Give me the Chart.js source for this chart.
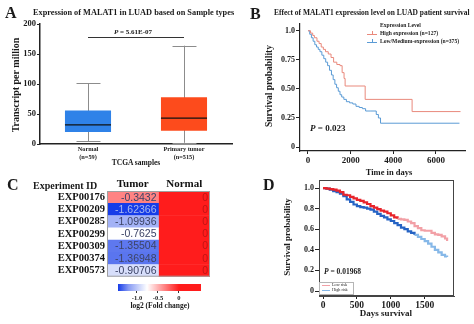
<!DOCTYPE html>
<html>
<head>
<meta charset="utf-8">
<script src="https://cdn.jsdelivr.net/npm/chart.js@4.4.1/dist/chart.umd.min.js"></script>
<style>
  body { margin:0; width:474px; height:324px; position:relative; overflow:hidden; background:#fff;
         font-family:"Liberation Serif", serif; font-weight:bold; color:#1a1a1a; }
  canvas { position:absolute; }
  .t { position:absolute; white-space:nowrap; line-height:1; }
  .c { transform:translate(-50%,-50%); }
  .l { transform:translateY(-50%); }
  .r { transform:translate(-50%,-50%) rotate(-90deg); }
  .big { font-size:16px; }
  .ln { position:absolute; height:1px; }
</style>
</head>
<body>
<canvas id="chartA" width="237" height="152" style="left:0;top:18px"></canvas>
<canvas id="chartB" width="234" height="160" style="left:240px;top:18px"></canvas>
<canvas id="chartC" width="237" height="115" style="left:0;top:170px"></canvas>
<canvas id="chartCbar" width="100" height="24" style="left:110px;top:280px"></canvas>
<canvas id="chartD" width="234" height="152" style="left:240px;top:172px"></canvas>

<!-- panel A texts -->
<div class="t l big" style="left:5px;top:13px">A</div>
<div class="t l" style="left:33px;top:13px;font-size:8.3px">Expression of MALAT1 in LUAD based on Sample types</div>
<div class="t c" style="left:133px;top:32px;font-size:7px"><i>P</i> = 5.61E-07</div>
<div class="t r" style="left:16px;top:85px;font-size:10px">Transcript per million</div>
<div class="t c" style="left:136px;top:163px;font-size:7.5px">TCGA samples</div>

<!-- panel B texts -->
<div class="t l big" style="left:250px;top:14px">B</div>
<div class="t l" style="left:274px;top:13px;font-size:7.45px">Effect of MALAT1 expression level on LUAD patient survival</div>
<div class="t l" style="left:380px;top:26px;font-size:5.6px">Expression Level</div>
<div class="ln" style="left:367px;top:34px;width:10px;background:#e9897c"></div>
<div class="ln" style="left:372px;top:31px;width:1px;height:3px;background:#e9897c"></div>
<div class="t l" style="left:380px;top:34px;font-size:5.6px">High expression (n=127)</div>
<div class="ln" style="left:367px;top:42px;width:10px;background:#5b9bd5"></div>
<div class="ln" style="left:372px;top:39px;width:1px;height:3px;background:#5b9bd5"></div>
<div class="t l" style="left:380px;top:42px;font-size:5.6px">Low/Medium-expression (n=375)</div>
<div class="t l" style="left:310px;top:128px;font-size:9px"><i>P</i> = 0.023</div>
<div class="t c" style="left:389px;top:172px;font-size:8.5px">Time in days</div>
<div class="t r" style="left:270px;top:86px;font-size:9.5px">Survival probability</div>

<!-- panel C texts -->
<div class="t l big" style="left:7px;top:185px">C</div>
<div class="t l" style="left:33px;top:186px;font-size:10px">Experiment ID</div>
<div class="t c" style="left:160px;top:306px;font-size:7.5px">log2 (Fold change)</div>

<!-- panel D texts -->
<div class="t l big" style="left:263px;top:185px">D</div>
<div class="t l" style="left:324px;top:272px;font-size:7.5px"><i>P</i> = 0.01968</div>
<div class="t c" style="left:386px;top:313px;font-size:9px">Days survival</div>
<div class="t r" style="left:287px;top:237px;font-size:9px">Survival probability</div>
<div style="position:absolute;left:319px;top:282px;width:33px;height:11px;border:0.5px solid #b5b5b5;background:#fff"></div>
<div class="ln" style="left:322px;top:285px;width:8px;background:#f2a0a6"></div>
<div class="t l" style="left:332px;top:285px;font-size:4.2px;font-weight:normal">Low risk</div>
<div class="ln" style="left:322px;top:290px;width:8px;background:#86b8e8"></div>
<div class="t l" style="left:332px;top:290px;font-size:4.2px;font-weight:normal">High risk</div>

<script>
// panel A: box plot values (transcript per million)
var boxLabels = [['Normal', '(n=59)'], ['Primary tumor', '(n=515)']];
var boxMin = [5, 2];
var boxQ1 = [20, 22];
var boxMedian = [32, 43];
var boxQ3 = [56, 78];
var boxMax = [101, 164];
var pBarValue = 178;
var aTicks = [0, 50, 100, 150, 200];

// panel B: Kaplan-Meier, days / survival
var highT = [0, 120, 220, 300, 420, 520, 620, 720, 820, 950, 1080, 1200, 1350, 1500, 1600, 1690, 1740, 2680, 4880, 7150];
var highS = [1.0, 0.98, 0.96, 0.94, 0.91, 0.89, 0.86, 0.84, 0.82, 0.80, 0.77, 0.73, 0.71, 0.70, 0.64, 0.59, 0.525, 0.41, 0.305, 0.305];
var lowT = [0, 80, 160, 240, 320, 400, 480, 560, 650, 740, 830, 920, 1010, 1100, 1180, 1260, 1340, 1420, 1500, 1580, 1680, 1800, 1950, 2100, 2250, 2400, 2550, 2700, 2950, 3200, 3300, 3400, 7100];
var lowS = [1.0, 0.97, 0.94, 0.91, 0.88, 0.86, 0.84, 0.82, 0.79, 0.76, 0.73, 0.70, 0.66, 0.62, 0.58, 0.54, 0.51, 0.48, 0.45, 0.43, 0.41, 0.39, 0.38, 0.37, 0.35, 0.34, 0.33, 0.31, 0.31, 0.28, 0.25, 0.205, 0.205];
var bXTicks = [0, 2000, 4000, 6000];
var bYTicks = [0, 0.25, 0.5, 0.75, 1];

// panel C: heatmap of log2 fold change
var expIds = ['EXP00176', 'EXP00209', 'EXP00285', 'EXP00299', 'EXP00309', 'EXP00374', 'EXP00573'];
var colHeads = ['Tumor', 'Normal'];
var tumorFC = [-0.3432, -1.62366, -1.09936, -0.7625, -1.35504, -1.36948, -0.90706];
var normalFC = [0, 0, 0, 0, 0, 0, 0];
var cbarTicks = [-1, -0.5, 0];
var cbarMin = -1.452, cbarMax = 0.524;

// panel D: risk groups, days / survival
var dT = [0, 50, 100, 150, 200, 250, 300, 350, 400, 450, 500, 550, 600, 650, 700, 750, 800, 850, 900, 950, 1000, 1050, 1100, 1150, 1200, 1250, 1300, 1350, 1400, 1450, 1500, 1550, 1600, 1650, 1700, 1750, 1800, 1830];
var lowRiskS = [1.0, 0.995, 0.99, 0.985, 0.975, 0.96, 0.935, 0.93, 0.915, 0.9, 0.885, 0.875, 0.86, 0.845, 0.825, 0.81, 0.795, 0.78, 0.77, 0.755, 0.735, 0.715, 0.70, 0.695, 0.69, 0.675, 0.66, 0.63, 0.61, 0.59, 0.585, 0.585, 0.565, 0.55, 0.545, 0.53, 0.51, 0.485];
var highRiskS = [1.0, 0.995, 0.985, 0.97, 0.96, 0.945, 0.92, 0.89, 0.865, 0.84, 0.825, 0.815, 0.81, 0.80, 0.79, 0.77, 0.75, 0.73, 0.715, 0.695, 0.68, 0.66, 0.64, 0.615, 0.60, 0.58, 0.565, 0.545, 0.525, 0.505, 0.485, 0.46, 0.43, 0.40, 0.375, 0.35, 0.335, 0.33];
var dXTicks = [0, 500, 1000, 1500];
var dYTicks = [0, 0.2, 0.4, 0.6, 0.8, 1];

Chart.defaults.font.family = '"Liberation Serif", serif';
Chart.defaults.font.weight = 'bold';
Chart.defaults.color = '#1a1a1a';
Chart.defaults.animation = false;
Chart.defaults.responsive = false;
Chart.defaults.devicePixelRatio = 1;
Chart.defaults.plugins.legend.display = false;
Chart.defaults.plugins.tooltip.enabled = false;

function fixTicks(list) {
  return function(scale) { scale.ticks = list.map(function(v) { return {value: v}; }); };
}
function toXY(xs, ys) {
  return xs.map(function(x, i) { return {x: x, y: ys[i]}; });
}

// ---------- A ----------
var boxPlugin = {
  id: 'boxExtras',
  beforeDatasetsDraw: function(chart) {
    var ctx = chart.ctx, y = chart.scales.y;
    ctx.save();
    ctx.strokeStyle = '#8c8c8c';
    ctx.lineWidth = 1;
    chart.getDatasetMeta(0).data.forEach(function(bar, i) {
      var x = Math.round(bar.x) + 0.5, half = bar.width * 0.26;
      ctx.beginPath();
      ctx.moveTo(x, y.getPixelForValue(boxMin[i]));
      ctx.lineTo(x, y.getPixelForValue(boxMax[i]));
      [boxMin[i], boxMax[i]].forEach(function(v) {
        var py = Math.round(y.getPixelForValue(v)) + 0.5;
        ctx.moveTo(x - half, py);
        ctx.lineTo(x + half, py);
      });
      ctx.stroke();
    });
    ctx.restore();
  },
  afterDatasetsDraw: function(chart) {
    var ctx = chart.ctx, y = chart.scales.y, bars = chart.getDatasetMeta(0).data;
    ctx.save();
    ctx.strokeStyle = '#111';
    ctx.lineWidth = 1.3;
    bars.forEach(function(bar, i) {
      var py = y.getPixelForValue(boxMedian[i]);
      ctx.beginPath();
      ctx.moveTo(bar.x - bar.width / 2, py);
      ctx.lineTo(bar.x + bar.width / 2, py);
      ctx.stroke();
    });
    ctx.lineWidth = 1;
    ctx.strokeStyle = '#333';
    var pp = Math.round(y.getPixelForValue(pBarValue)) + 0.5;
    ctx.beginPath();
    ctx.moveTo(bars[0].x, pp);
    ctx.lineTo(bars[1].x, pp);
    ctx.stroke();
    ctx.restore();
  }
};

new Chart(document.getElementById('chartA'), {
  type: 'bar',
  data: {
    labels: boxLabels,
    datasets: [{
      data: boxQ1.map(function(q, i) { return [q, boxQ3[i]]; }),
      backgroundColor: ['#2f82e8', '#fd4b1c'],
      borderWidth: 0,
      barPercentage: 0.48,
      categoryPercentage: 1
    }]
  },
  options: {
    layout: {padding: {top: 6, right: 5}},
    scales: {
      x: {
        grid: {display: false, drawTicks: false},
        border: {color: '#222', width: 1.5},
        ticks: {font: {size: 6.3}, padding: 2, maxRotation: 0, lineHeight: 1.1},
        afterFit: function(s) { s.height = 26; }
      },
      y: {
        min: 0, max: 200,
        afterBuildTicks: fixTicks(aTicks),
        grid: {drawOnChartArea: false, tickLength: 3, color: '#222'},
        border: {color: '#222', width: 1.5},
        ticks: {font: {size: 8.5}, padding: 1},
        afterFit: function(s) { s.width = 40; }
      }
    }
  },
  plugins: [boxPlugin]
});

// ---------- B ----------
new Chart(document.getElementById('chartB'), {
  type: 'line',
  data: {
    datasets: [
      {data: toXY(highT, highS), borderColor: '#e9897c', borderWidth: 1, stepped: true, pointRadius: 0},
      {data: toXY(lowT, lowS), borderColor: '#5b9bd5', borderWidth: 1, stepped: true, pointRadius: 0}
    ]
  },
  options: {
    layout: {padding: {top: 4, right: 9}},
    scales: {
      x: {
        type: 'linear', min: -375, max: 7360,
        afterBuildTicks: fixTicks(bXTicks),
        grid: {drawOnChartArea: false, tickLength: 3, color: '#222'},
        border: {color: '#222', width: 1.2},
        ticks: {font: {size: 9}, padding: 1, callback: function(v) { return String(v); }},
        afterFit: function(s) { s.height = 27; }
      },
      y: {
        min: -0.034, max: 1.06,
        afterBuildTicks: fixTicks(bYTicks),
        grid: {drawOnChartArea: false, tickLength: 4, color: '#222'},
        border: {color: '#222', width: 1.2},
        ticks: {font: {size: 8}, padding: 1, callback: function(v) { return v === 0 ? '0' : (v === 1 ? '1.0' : v.toFixed(2)); }},
        afterFit: function(s) { s.width = 60; }
      }
    }
  }
});

// ---------- C ----------
var fcLow = -1.62, fcWhite = -0.76, fcHigh = 0;
function mix(a, b, t) {
  return 'rgb(' + a.map(function(v, i) { return Math.round(v + (b[i] - v) * t); }).join(',') + ')';
}
function fcColor(v) {
  var white = [255, 255, 255];
  if (v <= fcWhite) return mix(white, [22, 60, 232], Math.min(1, (fcWhite - v) / (fcWhite - fcLow)));
  return mix(white, [255, 28, 28], Math.min(1, (v - fcWhite) / (fcHigh - fcWhite)));
}

var cellText = {
  id: 'cellText',
  afterDatasetsDraw: function(chart) {
    var ctx = chart.ctx;
    ctx.save();
    ctx.font = '10.5px "Liberation Sans", Arial, sans-serif';
    ctx.textAlign = 'right';
    ctx.textBaseline = 'middle';
    [tumorFC, normalFC].forEach(function(vals, d) {
      chart.getDatasetMeta(d).data.forEach(function(bar, i) {
        ctx.fillStyle = d === 1 ? '#c21414' : (vals[i] < -1.5 ? '#a9b9ef' : '#3d4466');
        ctx.fillText(String(vals[i]), bar.x - 2, bar.y + 0.5);
      });
    });
    var a = chart.chartArea;
    ctx.strokeStyle = '#a0a0a0';
    ctx.lineWidth = 1;
    ctx.strokeRect(a.left + 0.5, a.top + 0.5, a.width - 1, a.height - 1);
    ctx.restore();
  }
};

new Chart(document.getElementById('chartC'), {
  type: 'bar',
  data: {
    labels: expIds,
    datasets: [
      {label: colHeads[0], data: tumorFC.map(function() { return 1; }), backgroundColor: tumorFC.map(fcColor)},
      {label: colHeads[1], data: normalFC.map(function() { return 1; }), backgroundColor: normalFC.map(fcColor)}
    ]
  },
  options: {
    indexAxis: 'y',
    layout: {padding: {top: 10, right: 27, bottom: 5}},
    datasets: {bar: {barPercentage: 1, categoryPercentage: 1, borderWidth: 0}},
    scales: {
      x: {
        position: 'top', stacked: true, min: 0, max: 2,
        afterBuildTicks: fixTicks([0.5, 1.5]),
        grid: {display: false, drawTicks: false},
        border: {display: false},
        ticks: {font: {size: 11}, padding: 0, color: '#111', callback: function(v, i) { return colHeads[i]; }},
        afterFit: function(s) { s.height = 11; }
      },
      y: {
        stacked: true,
        grid: {display: false, drawTicks: false},
        border: {display: false},
        ticks: {font: {size: 10.5}, padding: 2, color: '#111', autoSkip: false},
        afterFit: function(s) { s.width = 107; }
      }
    }
  },
  plugins: [cellText]
});

new Chart(document.getElementById('chartCbar'), {
  type: 'bar',
  data: {
    labels: ['log2FC'],
    datasets: [{
      data: [[cbarMin, cbarMax]],
      backgroundColor: function(c) {
        var a = c.chart.chartArea, xs = c.chart.scales.x;
        if (!a || !xs) return '#ccc';
        var g = c.chart.ctx.createLinearGradient(a.left, 0, a.right, 0);
        g.addColorStop(0, fcColor(fcLow));
        [-1.2, -1.0, fcWhite, -0.5, -0.25, fcHigh].forEach(function(v) {
          g.addColorStop((xs.getPixelForValue(v) - a.left) / a.width, fcColor(v));
        });
        g.addColorStop(1, fcColor(fcHigh));
        return g;
      },
      borderWidth: 0,
      barPercentage: 1,
      categoryPercentage: 1
    }]
  },
  options: {
    indexAxis: 'y',
    layout: {padding: {left: 8, right: 9, top: 4}},
    scales: {
      y: {display: false},
      x: {
        min: cbarMin, max: cbarMax,
        afterBuildTicks: fixTicks(cbarTicks),
        grid: {drawOnChartArea: false, tickLength: 2, color: '#333'},
        border: {display: false},
        ticks: {font: {size: 6.5}, padding: 1, callback: function(v) { return v === 0 ? '0' : v.toFixed(1); }},
        afterFit: function(s) { s.height = 13; }
      }
    }
  }
});

// ---------- D ----------
var frame = {
  id: 'frame',
  afterDraw: function(chart) {
    var a = chart.chartArea, ctx = chart.ctx;
    ctx.save();
    ctx.strokeStyle = '#444';
    ctx.lineWidth = 1;
    ctx.strokeRect(a.left + 0.5, a.top + 0.5, a.width - 1, a.height - 1);
    ctx.restore();
  }
};

new Chart(document.getElementById('chartD'), {
  type: 'line',
  data: {
    datasets: [
      {data: toXY(dT, lowRiskS), borderWidth: 2.2, stepped: true, pointRadius: 0,
       borderColor: '#e8232a',
       segment: {borderColor: function(c) { return c.p0.parsed.x < 1100 ? '#e8232a' : '#f2a0a6'; }}},
      {data: toXY(dT, highRiskS), borderWidth: 2.2, stepped: true, pointRadius: 0,
       borderColor: '#2563c4',
       segment: {borderColor: function(c) { return c.p0.parsed.x < 1350 ? '#2563c4' : '#86b8e8'; }}}
    ]
  },
  options: {
    layout: {padding: {top: 8, right: 20}},
    scales: {
      x: {
        type: 'linear', min: -59, max: 1932,
        afterBuildTicks: fixTicks(dXTicks),
        grid: {drawOnChartArea: false, tickLength: 3, color: '#222'},
        border: {color: '#444', width: 1},
        ticks: {font: {size: 9.5}, padding: 1, callback: function(v) { return String(v); }},
        afterFit: function(s) { s.height = 28; }
      },
      y: {
        min: -0.0485, max: 1.078,
        afterBuildTicks: fixTicks(dYTicks),
        grid: {drawOnChartArea: false, tickLength: 4, color: '#222'},
        border: {color: '#444', width: 1},
        ticks: {font: {size: 8}, padding: 1, callback: function(v) { return v === 0 ? '0' : v.toFixed(1); }},
        afterFit: function(s) { s.width = 79; }
      }
    }
  },
  plugins: [frame]
});
</script>
</body>
</html>
